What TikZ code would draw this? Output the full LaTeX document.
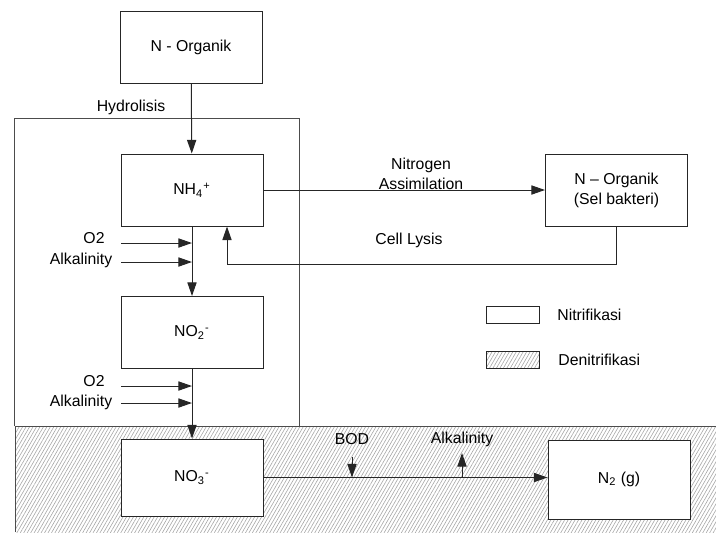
\documentclass[tikz,border=0pt]{standalone}
\usepackage{fontspec}
\setmainfont{Liberation Sans}
\usetikzlibrary{arrows.meta,patterns.meta}
\tikzset{
  box/.style={draw=black!85,fill=white,line width=0.5pt,minimum width=71pt,minimum height=36pt,inner sep=0pt,align=center},
  lbl/.style={inner sep=0pt,align=center},
  arr/.style={-{Triangle[length=6.8pt,width=4.6pt]},draw=black!85,line width=0.5pt},
  hatch/.style={pattern={Lines[angle=60,distance=1.5pt,line width=0.3pt]},pattern color=gray!70},
  legbox/.style={draw=black!85,line width=0.5pt,minimum width=26.5pt,minimum height=8.5pt,inner sep=0pt},
  frame/.style={draw=black!70,line width=0.5pt}
}
\begin{document}
\begin{tikzpicture}[x=0.5pt,y=-0.5pt,font=\fontsize{7.9}{10}\selectfont]
  \useasboundingbox (0,0) rectangle (716,532);
  \fill[hatch] (15,426) rectangle (716,532);
  \draw[frame] (15,532) |- (716,426);
  \draw[frame] (14,426) |- (299,118) -- (299,426);
  \draw
    (191,47.5) node[box] (norg) {N - Organik}
    (192,190) node[box] (nh4) {NH\textsubscript{4}\textsuperscript{+}}
    (192,332.5) node[box] (no2) {NO\textsubscript{2}\textsuperscript{-}}
    (192,477.5) node[box,minimum height=38.5pt] (no3) {NO\textsubscript{3}\textsuperscript{-}}
    (619,479.5) node[box,minimum height=39.5pt] (n2) {N\textsubscript{2} (g)}
    (616.5,190) node[box] (nsel) {N -- Organik\\(Sel bakteri)};
  \draw
    (131,107) node[lbl] (hidro) {Hydrolisis}
    (421,173.5) node[lbl] (asim) {Nitrogen\\Assimilation}
    (409,240) node[lbl] (lisis) {Cell Lysis}
    (94,238) node[lbl] (o2a) {O2}
    (81,260) node[lbl] (alka) {Alkalinity}
    (94,381) node[lbl] (o2b) {O2}
    (81,402) node[lbl] (alkb) {Alkalinity}
    (352,439) node[lbl] (bod) {BOD}
    (462,439) node[lbl] (alkc) {Alkalinity};
  \draw
    (512.5,314.5) node[legbox,fill=white] (lnit) {}
    (512.5,359.5) node[legbox,hatch] (lden) {}
    (557,315) node[lbl,anchor=west] (tnit) {Nitrifikasi}
    (558,360) node[lbl,anchor=west] (tden) {Denitrifikasi};
  \coordinate (o2ain) at (121,243);
  \coordinate (alkain) at (121,262);
  \coordinate (o2bin) at (121,386);
  \coordinate (alkbin) at (121,403);
  \coordinate (lys) at (227,264);
  \coordinate (bodin) at (352,457);
  \coordinate (alkcout) at (462,453);
  \begin{scope}[arr]
    \draw (norg) to (nh4);
    \draw (nh4) to (no2);
    \draw (no2) to (no3);
    \draw (nh4.east) to (nh4.east -| nsel.west);
    \draw (nsel.south) |- (lys) -- (lys |- nh4.south);
    \draw (o2ain) to (o2ain -| nh4.south);
    \draw (alkain) to (alkain -| nh4.south);
    \draw (o2bin) to (o2bin -| no2.south);
    \draw (alkbin) to (alkbin -| no2.south);
    \draw (no3.east) to (no3.east -| n2.west);
    \draw (bodin) to (bodin |- no3.east);
    \draw (alkcout |- no3.east) to (alkcout);
  \end{scope}
\end{tikzpicture}
\end{document}
